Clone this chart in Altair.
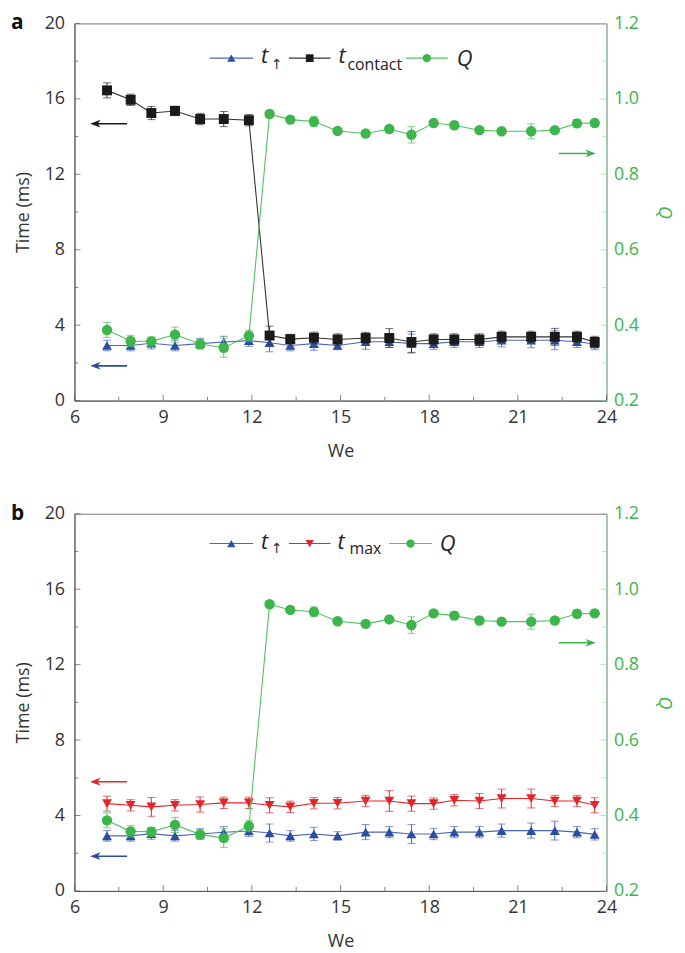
import altair as alt
import pandas as pd

# ---------------- data ----------------
we = [7.1, 7.9, 8.6, 9.4, 10.25, 11.05, 11.9, 12.6, 13.3, 14.1, 14.9,
      15.85, 16.65, 17.4, 18.15, 18.85, 19.7, 20.45, 21.45, 22.25, 23.0, 23.6]
t_up = [2.92, 2.92, 3.04, 2.92, 3.02, 3.11, 3.18, 3.07, 2.92, 3.02, 2.92,
        3.12, 3.12, 3.02, 3.02, 3.12, 3.12, 3.2, 3.2, 3.2, 3.12, 3.0]
t_up_err = [0.28, 0.28, 0.3, 0.28, 0.28, 0.3, 0.3, 0.48, 0.28, 0.35, 0.22,
            0.4, 0.3, 0.5, 0.3, 0.3, 0.3, 0.35, 0.4, 0.5, 0.3, 0.3]
t_contact = [16.45, 15.95, 15.25, 15.36, 14.93, 14.93, 14.87, 3.45, 3.26, 3.33, 3.24,
             3.32, 3.32, 3.11, 3.24, 3.24, 3.24, 3.38, 3.38, 3.38, 3.38, 3.11]
t_contact_err = [0.4, 0.3, 0.35, 0.25, 0.3, 0.4, 0.3, 0.5, 0.25, 0.3, 0.3,
                 0.3, 0.5, 0.55, 0.3, 0.3, 0.3, 0.3, 0.3, 0.45, 0.3, 0.3]
t_max = [4.63, 4.54, 4.46, 4.54, 4.58, 4.67, 4.67, 4.54, 4.46, 4.65, 4.65,
         4.77, 4.77, 4.63, 4.63, 4.81, 4.77, 4.9, 4.9, 4.77, 4.77, 4.54]
t_max_err = [0.4, 0.3, 0.5, 0.3, 0.4, 0.3, 0.3, 0.4, 0.3, 0.3, 0.3,
             0.3, 0.55, 0.4, 0.3, 0.3, 0.4, 0.5, 0.5, 0.3, 0.3, 0.4]
q = [0.387, 0.358, 0.357, 0.375, 0.35, 0.34, 0.372, 0.96, 0.945, 0.94, 0.915,
     0.908, 0.92, 0.905, 0.936, 0.93, 0.917, 0.914, 0.914, 0.917, 0.935, 0.936]
q_err = [0.02, 0.015, 0.012, 0.02, 0.012, 0.025, 0.015, 0.008, 0.008, 0.013, 0.006,
         0.008, 0.008, 0.022, 0.006, 0.01, 0.006, 0.006, 0.02, 0.006, 0.01, 0.008]

x_major = [6, 9, 12, 15, 18, 21, 24]
x_minor = [7.5, 10.5, 13.5, 16.5, 19.5, 22.5]
time_major = [0, 4, 8, 12, 16, 20]
time_minor = [2, 6, 10, 14, 18]
q_major = [0.2, 0.4, 0.6, 0.8, 1.0, 1.2]
q_minor = [0.3, 0.5, 0.7, 0.9, 1.1]

# ---------------- styling ----------------
FONT = "Open Sans"
BLUE = "#2b4ea2"
BLUE_LINE = "#4d67b8"
BLACK = "#1a1a1a"
RED = "#e5252a"
GREEN = "#3cb54b"
GREEN_LINE = "#52c25f"
GREEN_AXIS = "#8fd49a"
AXIS_GRAY = "#555555"
W, H = 536, 380

df = pd.DataFrame({
    "we": we,
    "tup": t_up, "tup_lo": [v - e for v, e in zip(t_up, t_up_err)], "tup_hi": [v + e for v, e in zip(t_up, t_up_err)],
    "tc": t_contact, "tc_lo": [v - e for v, e in zip(t_contact, t_contact_err)], "tc_hi": [v + e for v, e in zip(t_contact, t_contact_err)],
    "tm": t_max, "tm_lo": [v - e for v, e in zip(t_max, t_max_err)], "tm_hi": [v + e for v, e in zip(t_max, t_max_err)],
    "q": q, "q_lo": [v - e for v, e in zip(q, q_err)], "q_hi": [v + e for v, e in zip(q, q_err)],
})
one = pd.DataFrame({"k": [0]})

xscale = alt.Scale(domain=[6, 24], nice=False, zero=False)
tscale = alt.Scale(domain=[0, 20], nice=False, zero=False)
qscale = alt.Scale(domain=[0.2, 1.2], nice=False, zero=False)

x_axis = alt.Axis(title="We", values=x_major, ticks=False, labelPadding=8, titlePadding=16,
                  labelFlush=False)
t_axis = alt.Axis(title="Time (ms)", values=time_major, ticks=False, labelPadding=10, titlePadding=12)
q_axis = alt.Axis(title="Q", orient="right", values=q_major, ticks=False,
                  format=".1f", labelPadding=7, titlePadding=16,
                  domainColor=GREEN_AXIS, labelColor=GREEN,
                  titleColor=GREEN, titleFontStyle="italic", titleAngle=90)


def X(field):
    return alt.X(field, scale=xscale, axis=x_axis)


def Y(field, scale):
    return alt.Y(field, scale=scale, axis=(t_axis if scale is tscale else q_axis))


def series(col, color, line_color, shape, size, scale):
    base = alt.Chart(df)
    line = base.mark_line(color=line_color, strokeWidth=1.1).encode(
        x=X("we:Q"), y=Y(f"{col}:Q", scale))
    bar = base.mark_rule(color=line_color, strokeWidth=1).encode(
        x=X("we:Q"), y=Y(f"{col}_lo:Q", scale), y2=f"{col}_hi:Q")
    cap_lo = base.mark_tick(color=line_color, orient="horizontal", size=8, thickness=1).encode(
        x=X("we:Q"), y=Y(f"{col}_lo:Q", scale))
    cap_hi = base.mark_tick(color=line_color, orient="horizontal", size=8, thickness=1).encode(
        x=X("we:Q"), y=Y(f"{col}_hi:Q", scale))
    pts = base.mark_point(shape=shape, filled=True, size=size, color=color, opacity=1).encode(
        x=X("we:Q"), y=Y(f"{col}:Q", scale))
    return [line, bar, cap_lo, cap_hi, pts]


def ticks_x(values, length):
    return alt.Chart(pd.DataFrame({"v": values})).mark_tick(
        orient="vertical", size=length, thickness=1, color=AXIS_GRAY).encode(
        x=X("v:Q"), y=alt.value(H - length / 2))


def ticks_y(values, length, scale, xpos, color):
    return alt.Chart(pd.DataFrame({"v": values})).mark_tick(
        orient="horizontal", size=length, thickness=1, color=color).encode(
        y=Y("v:Q", scale), x=alt.value(xpos))


def legend_item(x1, x2, y, color, line_color, shape, size):
    ln = alt.Chart(one).mark_rule(color=line_color, strokeWidth=1.1).encode(
        x=alt.value(x1), x2=alt.value(x2), y=alt.value(y))
    pt = alt.Chart(one).mark_point(shape=shape, filled=True, size=size, color=color, opacity=1).encode(
        x=alt.value((x1 + x2) / 2), y=alt.value(y))
    return [ln, pt]


def text(s, x, y, size, color="#222222", style="normal", weight="normal", font=FONT):
    return alt.Chart(one).mark_text(text=s, align="left", baseline="alphabetic", font=font,
                                    fontSize=size, fontStyle=style, fontWeight=weight,
                                    color=color).encode(x=alt.value(x), y=alt.value(y))


ARROW_L = "M-1,0 L1,-0.75 L0.45,0 L1,0.75 Z"
ARROW_R = "M1,0 L-1,-0.75 L-0.45,0 L-1,0.75 Z"


def arrow(x1, x2, y, color, left=True):
    ln = alt.Chart(one).mark_rule(color=color, strokeWidth=1.6).encode(
        x=alt.value(x1 + (3 if left else 0)), x2=alt.value(x2 - (0 if left else 3)), y=alt.value(y))
    head = alt.Chart(one).mark_point(shape=ARROW_L if left else ARROW_R, filled=True, size=110,
                                     color=color, opacity=1, strokeWidth=0).encode(
        x=alt.value(x1 + 5 if left else x2 - 5), y=alt.value(y))
    return [ln, head]


def panel(tag, col2, color2, line2, shape2, size2, sub2, leg_y, t_base, sub_base, q_base,
          sub2_x, t2_x, leg2, qleg, q_x, arrows_left, arrow_q_y):
    left_layers = []
    left_layers += series("tup", BLUE, BLUE_LINE, "triangle-up", 100, tscale)
    left_layers += series(col2, color2, line2, shape2, size2, tscale)
    # inward axis ticks
    left_layers += [ticks_x(x_major, 6), ticks_x(x_minor, 4),
                    ticks_y(time_major, 6, tscale, 3, AXIS_GRAY),
                    ticks_y(time_minor, 4, tscale, 2, AXIS_GRAY)]
    # legend
    left_layers += legend_item(136, 180, leg_y, BLUE, BLUE_LINE, "triangle-up", 70)
    left_layers += [text("t", 188, t_base, 22, style="italic"),
                    text("\u2191\ufe0e", 198, sub_base, 14, font="DejaVu Sans", color="#333333")]
    left_layers += legend_item(leg2[0], leg2[1], leg_y, color2, line2, shape2, 60 if shape2 == "square" else 70)
    left_layers += [text("t", t2_x, t_base, 22, style="italic"),
                    text(sub2, sub2_x, sub_base + 1, 16)]
    left_layers += legend_item(qleg[0], qleg[1], leg_y, GREEN, GREEN_LINE, "circle", 70)
    left_layers += [text("Q", q_x, q_base, 22, style="italic")]
    # arrows
    for (ay, acol) in arrows_left:
        left_layers += arrow(16, 53, ay, acol, left=True)
    left_layers += [text(tag, -64, 6, 21, color="#111111", weight="bold")]
    left = alt.layer(*left_layers)
    right = alt.layer(*(series("q", GREEN, GREEN_LINE, "circle", 110, qscale)
                        + [ticks_y(q_major, 6, qscale, W - 3, GREEN_AXIS),
                           ticks_y(q_minor, 4, qscale, W - 2, GREEN_AXIS)]
                        + arrow(488, 525, arrow_q_y, GREEN, left=False)))
    return alt.layer(left, right).resolve_scale(y="independent").properties(width=W, height=H)


panel_a = panel("a", "tc", BLACK, "#333333", "square", 100, "contact",
                leg_y=35, t_base=40, sub_base=46, q_base=43,
                sub2_x=275, t2_x=266, leg2=(216, 258), qleg=(334, 376), q_x=385,
                arrows_left=[(101, BLACK), (345, BLUE)], arrow_q_y=131)
panel_b = panel("b", "tm", RED, RED, "triangle-down", 100, "max",
                leg_y=30, t_base=36, sub_base=40, q_base=38,
                sub2_x=277, t2_x=265, leg2=(216, 258), qleg=(317, 360), q_x=368,
                arrows_left=[(270, RED), (345, BLUE)], arrow_q_y=130)

chart = alt.vconcat(panel_a, panel_b, spacing=41).properties(
    padding={"left": 2, "top": 0, "right": 4, "bottom": 0}
).configure_view(stroke="#7a7a7a", strokeWidth=1).configure_axis(
    labelFont=FONT, titleFont=FONT, labelFontSize=18, titleFontSize=18,
    labelColor="#333333", titleColor="#333333", titleFontWeight="normal",
    domainColor=AXIS_GRAY, grid=False
)

chart.save("out.html", embed_options={"renderer": "svg", "actions": False})
